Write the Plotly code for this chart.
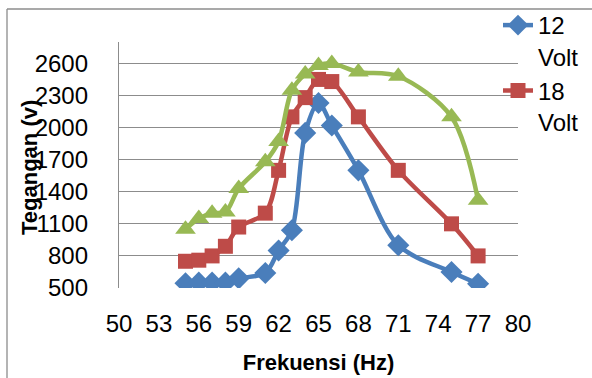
import plotly.graph_objects as go

freq = [55, 56, 57, 58, 59, 61, 62, 63, 64, 65, 66, 68, 71, 75, 77]
v12 = [545, 550, 550, 550, 590, 640, 850, 1040, 1950, 2230, 2020, 1600, 900, 650, 540]
v18 = [750, 760, 800, 890, 1070, 1200, 1600, 2100, 2280, 2450, 2430, 2100, 1600, 1100, 800]
v24 = [1050, 1150, 1200, 1210, 1430, 1680, 1870, 2350, 2500, 2580, 2600, 2520, 2480, 2100, 1320]

names = ["12<br>Volt", "18<br>Volt", "24<br>Volt"]
colors = ["#4A7EBB", "#BE4B48", "#98B954"]
symbols = ["diamond", "square", "triangle-up"]
sizes = [17, 15, 18]
series = [v12, v18, v24]
show = [True, True, False]

FONT = "Liberation Sans"
fig = go.Figure()
for nm, c, s, sz, ys, sh in zip(names, colors, symbols, sizes, series, show):
    fig.add_trace(go.Scatter(
        x=freq, y=ys, name=nm, mode="lines+markers",
        line=dict(color=c, width=4.5, shape="spline", smoothing=0.9),
        marker=dict(symbol=s, size=sz, color=c),
        showlegend=sh,
    ))

fig.update_layout(
    width=592, height=378,
    margin=dict(l=119, r=74, t=42, b=90, autoexpand=False),
    paper_bgcolor="white", plot_bgcolor="white",
    font=dict(family=FONT, size=24, color="black"),
    legend=dict(xref="container", yref="container",
                x=498 / 592, y=1 - 3 / 378, xanchor="left", yanchor="top",
                bgcolor="rgba(0,0,0,0)", valign="top",
                font=dict(family=FONT, size=24), tracegroupgap=0,
                itemwidth=30),
    xaxis=dict(range=[50, 80], tick0=50, dtick=3, showgrid=False,
               showline=False, zeroline=False, ticks="",
               ticklabelstandoff=19,
               title=dict(text="<b>Frekuensi (Hz)</b>", font=dict(size=22), standoff=18)),
    yaxis=dict(range=[500, 2800], tick0=500, dtick=300, showgrid=True,
               gridcolor="#8C8C8C", gridwidth=1.3,
               showline=True, linecolor="#8C8C8C", linewidth=1.3,
               zeroline=False, ticks="", ticklabelstandoff=25),
    showlegend=True,
)

fig.add_annotation(text="<b>Tegangan (v)</b>", textangle=-90, showarrow=False,
                   xref="paper", yref="paper", x=(29 - 119) / 399, y=(288 - 168) / 246,
                   xanchor="center", yanchor="middle", font=dict(family=FONT, size=22))

# outer chart border (left and top edges visible)
fig.add_shape(type="line", xref="paper", yref="paper",
              x0=(7 - 119) / 399, x1=1.3, y0=(288 - 9) / 246, y1=(288 - 9) / 246,
              line=dict(color="#8C8C8C", width=1.3))
fig.add_shape(type="line", xref="paper", yref="paper",
              x0=(7 - 119) / 399, x1=(7 - 119) / 399, y0=-0.5, y1=(288 - 9) / 246,
              line=dict(color="#8C8C8C", width=1.3))

fig.write_html("out.html")
